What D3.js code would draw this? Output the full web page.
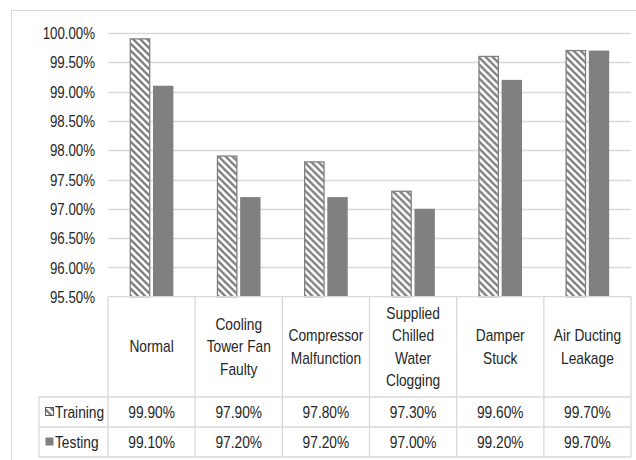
<!DOCTYPE html>
<html>
<head>
<meta charset="utf-8">
<script src="https://cdn.jsdelivr.net/npm/d3@7"></script>
<style>
  html, body { margin: 0; padding: 0; background: #fff; }
  svg { display: block; }
  text { font-family: "Liberation Sans", Arial, sans-serif; fill: #262626; }
</style>
</head>
<body>
<svg id="chart" width="636" height="460"></svg>
<script>
// Fault categories (multi-line labels for the data table header)
const categories = [
  ["Normal"],
  ["Cooling", "Tower Fan", "Faulty"],
  ["Compressor", "Malfunction"],
  ["Supplied", "Chilled", "Water", "Clogging"],
  ["Damper", "Stuck"],
  ["Air Ducting", "Leakage"]
];
const seriesNames = ["Training", "Testing"];
const training = [99.90, 97.90, 97.80, 97.30, 99.60, 99.70];
const testing  = [99.10, 97.20, 97.20, 97.00, 99.20, 99.70];
const yTicks = [95.5, 96.0, 96.5, 97.0, 97.5, 98.0, 98.5, 99.0, 99.5, 100.0];

const svg = d3.select("#chart");
const gridColor = "#d9d9d9";
const barGray = "#808080";
const fmtPct = v => d3.format(".2f")(v) + "%";

// Condensed text placed at (x, y)
function label(parent, x, y, str, anchor, size, squeeze) {
  return parent.append("text")
    .attr("transform", `translate(${x},${y}) scale(${squeeze},1)`)
    .attr("text-anchor", anchor)
    .attr("dy", "0.35em")
    .style("font-size", size + "px")
    .text(str);
}

// Outer chart frame
svg.append("rect")
  .attr("x", 11.5).attr("y", 10.5)
  .attr("width", 640).attr("height", 460)
  .attr("fill", "none").attr("stroke", gridColor).attr("stroke-width", 1);

// Diagonal hatch used for the Training series
const defs = svg.append("defs");
const pat = defs.append("pattern")
  .attr("id", "hatch")
  .attr("patternUnits", "userSpaceOnUse")
  .attr("width", 7).attr("height", 7);
pat.append("rect").attr("width", 7).attr("height", 7).attr("fill", "#fff");
pat.append("path")
  .attr("d", "M-2,-2 L9,9 M-2,5 L2,9 M5,-2 L9,2")
  .attr("stroke", barGray).attr("stroke-width", 2.3);

const plotLeft = 108, plotRight = 631, plotTop = 33, plotBottom = 296.7;

const x = d3.scaleBand()
  .domain(d3.range(categories.length))
  .range([plotLeft, plotRight]);
const x1 = d3.scaleBand()
  .domain(seriesNames)
  .range([x.bandwidth() * 0.25, x.bandwidth() * 0.75])
  .paddingInner(0.12);
const y = d3.scaleLinear().domain([95.5, 100]).range([plotBottom, plotTop]);

// Horizontal gridlines
svg.append("g").selectAll("line")
  .data(yTicks.filter(t => t > 95.5))
  .join("line")
  .attr("x1", plotLeft).attr("x2", plotRight)
  .attr("y1", d => Math.round(y(d)) + 0.5).attr("y2", d => Math.round(y(d)) + 0.5)
  .attr("stroke", gridColor).attr("stroke-width", 1.3);

// Y axis labels
const yAxis = d3.axisLeft(y)
  .tickValues(yTicks)
  .tickFormat(fmtPct)
  .tickSize(0).tickPadding(0);
const yg = svg.append("g")
  .attr("transform", `translate(95,0)`)
  .call(yAxis);
yg.select(".domain").remove();
yg.selectAll("text").remove();
yg.selectAll(".tick").each(function (d) {
  label(d3.select(this), 0, 0, fmtPct(d), "end", 16, 0.83);
});

// Bars
const rows = categories.map((c, i) => ({ i, Training: training[i], Testing: testing[i] }));
const groups = svg.append("g").selectAll("g")
  .data(rows).join("g")
  .attr("transform", d => `translate(${x(d.i)},0)`);

groups.append("rect")
  .attr("x", x1("Training") + 0.5)
  .attr("y", d => y(d.Training))
  .attr("width", x1.bandwidth() - 1)
  .attr("height", d => y(95.5) - y(d.Training))
  .attr("fill", "url(#hatch)")
  .attr("stroke", barGray).attr("stroke-width", 1.3);

groups.append("rect")
  .attr("x", x1("Testing"))
  .attr("y", d => y(d.Testing))
  .attr("width", x1.bandwidth())
  .attr("height", d => y(95.5) - y(d.Testing))
  .attr("fill", barGray);

// Data table beneath the plot
const tableLeft = 39, headBottom = 397, row1Bottom = 427, row2Bottom = 457;
const tg = svg.append("g");
const tline = (x1p, y1p, x2p, y2p) => tg.append("line")
  .attr("x1", x1p).attr("y1", y1p).attr("x2", x2p).attr("y2", y2p)
  .attr("stroke", gridColor).attr("stroke-width", 1.3);

tline(plotLeft, plotBottom, plotRight, plotBottom);
tline(tableLeft, headBottom, plotRight, headBottom);
tline(tableLeft, row1Bottom, plotRight, row1Bottom);
tline(tableLeft, row2Bottom, plotRight, row2Bottom);
tline(tableLeft, headBottom, tableLeft, row2Bottom);
d3.range(categories.length + 1).forEach(i => {
  const xv = i < categories.length ? x(i) : plotRight;
  tline(xv, plotBottom, xv, row2Bottom);
});

// Category header cells
const lineH = 22.5;
const headMid = (plotBottom + headBottom) / 2;
categories.forEach((lines, i) => {
  const cx = x(i) + x.bandwidth() / 2;
  lines.forEach((ln, k) => {
    label(tg, cx, headMid + (k - (lines.length - 1) / 2) * lineH, ln, "middle", 16, 0.86);
  });
});

// Value rows
const rowMids = [(headBottom + row1Bottom) / 2, (row1Bottom + row2Bottom) / 2];
[training, testing].forEach((vals, r) => {
  vals.forEach((v, i) => {
    label(tg, x(i) + x.bandwidth() / 2, rowMids[r], fmtPct(v), "middle", 16, 0.86);
  });
});

// Legend keys in the first column
seriesNames.forEach((name, r) => {
  const cy = rowMids[r];
  tg.append("rect")
    .attr("x", 45.5).attr("y", cy - 4.5)
    .attr("width", 8).attr("height", 8)
    .attr("fill", r === 0 ? "url(#hatch)" : barGray)
    .attr("stroke", r === 0 ? "#595959" : "none")
    .attr("stroke-width", 1);
  label(tg, 55, cy, name, "start", 16, 0.86);
});
</script>
</body>
</html>
